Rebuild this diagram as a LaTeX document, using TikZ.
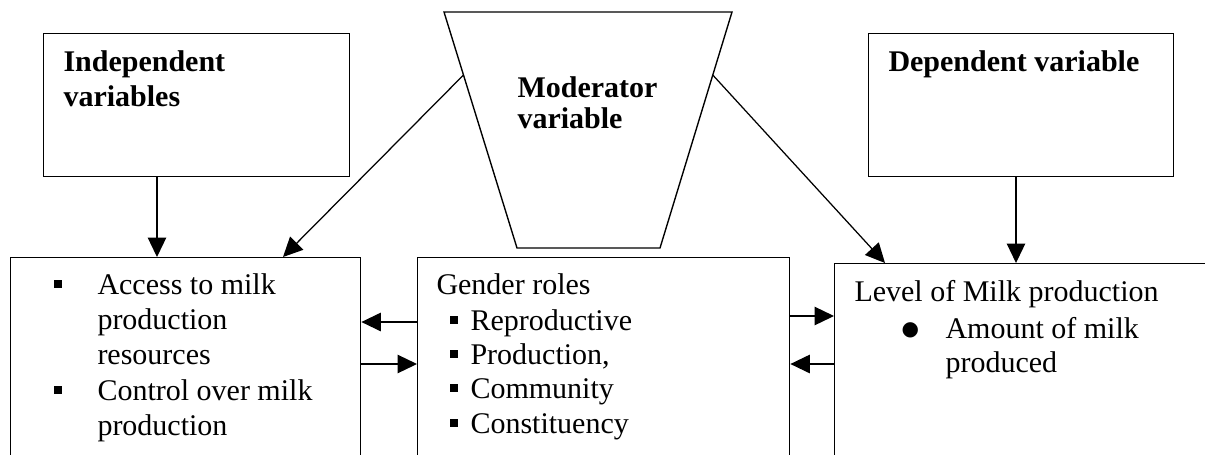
\documentclass[tikz,border=0pt]{standalone}
\usepackage{fontspec}
\setmainfont{Liberation Serif}
\newfontfamily\dejavu{DejaVu Sans}
\usetikzlibrary{arrows.meta,calc}
\newcommand{\sqbul}{\rule[2.6pt]{3.2pt}{3.2pt}}
\begin{document}
\begin{tikzpicture}[x=0.4pt,y=-0.4pt,
  box/.style={draw, line width=0.55pt, rectangle, anchor=north west, inner sep=0pt},
  txt/.style={anchor=base west, inner sep=0pt, font=\fontsize{12}{13.8}\selectfont},
  head/.style={anchor=base west, inner sep=0pt, font=\fontsize{12}{13.8}\selectfont\bfseries},
  arr/.style={line width=0.5pt, -{Triangle[length=7.8pt,width=7.4pt]}},
  conn/.style={line width=0.55pt}]
\useasboundingbox (0,0) rectangle (1205,454);
\clip (0,0) rectangle (1205,454);

% top boxes
\node[box, minimum width=306*0.4pt, minimum height=143*0.4pt] (ind) at (43,33) {};
\node[head] (indt1) at (63,71) {Independent};
\node[head] (indt2) at (63,106) {variables};

\node[box, minimum width=305*0.4pt, minimum height=143*0.4pt] (dep) at (868,33) {};
\node[head] (dept) at (888,71) {Dependent variable};

% moderator trapezoid
\coordinate (mtl) at (444,12);
\coordinate (mtr) at (732,12);
\coordinate (mbr) at (660,248);
\coordinate (mbl) at (517,248);
\draw[conn] (mtl) -- (mtr) -- (mbr) -- (mbl) -- cycle;
\node[head] (modt1) at (517,97) {Moderator};
\node[head] (modt2) at (517,128) {variable};
\coordinate (mleft) at ($(mtl)!0.267!(mbl)$);
\coordinate (mright) at ($(mtr)!0.267!(mbr)$);

% bottom boxes
\node[box, minimum width=350*0.4pt, minimum height=260*0.4pt] (acc) at (10,257) {};
\node[txt] (acc1) at (53,294) {\makebox[17.6pt][l]{\sqbul}Access to milk};
\node[txt] (acc2) at (97,329) {production};
\node[txt] (acc3) at (97,364) {resources};
\node[txt] (acc4) at (53,400) {\makebox[17.6pt][l]{\sqbul}Control over milk};
\node[txt] (acc5) at (97,435) {production};

\node[box, minimum width=372*0.4pt, minimum height=260*0.4pt] (gen) at (417,257) {};
\node[txt] (gen0) at (436,294) {Gender roles};
\node[txt] (gen1) at (449,330) {\makebox[8.4pt][l]{\sqbul}Reproductive};
\node[txt] (gen2) at (449,364) {\makebox[8.4pt][l]{\sqbul}Production,};
\node[txt] (gen3) at (449,398) {\makebox[8.4pt][l]{\sqbul}Community};
\node[txt] (gen4) at (449,433) {\makebox[8.4pt][l]{\sqbul}Constituency};

\node[box, minimum width=400*0.4pt, minimum height=260*0.4pt] (lvl) at (834,263) {};
\node[txt] (lvl0) at (854,301) {Level of Milk production};
\node[txt] (lvl1) at (901,338) {\makebox[17.6pt][l]{\raisebox{1.2pt}{\dejavu\fontsize{8}{8}\selectfont ●}}Amount of milk};
\node[txt] (lvl2) at (945,372) {produced};

% connectors
\draw[arr] (ind.south -| 157,0) -- (acc.north -| 157,0);
\draw[arr] (dep.south -| 1016,0) -- (lvl.north -| 1016,0);
\draw[arr] (mleft) -- (acc.north -| 283,0);
\draw[arr] (mright) -- (lvl.north -| 885,0);
\draw[arr] (gen.west |- 0,322) -- (acc.east |- 0,322);
\draw[arr] (acc.east |- 0,364) -- (gen.west |- 0,364);
\draw[arr] (gen.east |- 0,316) -- (lvl.west |- 0,316);
\draw[arr] (lvl.west |- 0,364) -- (gen.east |- 0,364);
\end{tikzpicture}
\end{document}
